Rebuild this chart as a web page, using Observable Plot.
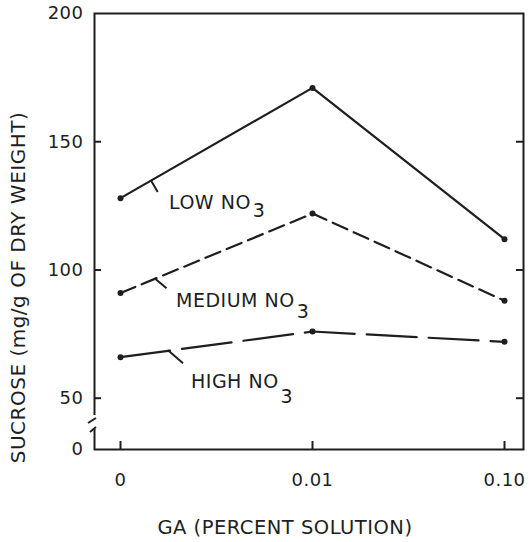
<!DOCTYPE html>
<html><head><meta charset="utf-8">
<script src="https://cdn.jsdelivr.net/npm/d3@7"></script>
<script src="https://cdn.jsdelivr.net/npm/@observablehq/plot@0.6"></script>
<style>body{margin:0;background:#fff}</style>
</head><body><div id="chart"></div>
<script>
// ---- data ----
const gaLevels = ["0", "0.01", "0.10"];
const lowNO3 = [128, 171, 112];
const mediumNO3 = [91, 122, 88];
const highNO3 = [66, 76, 72];
const seriesLabels = ["LOW NO", "MEDIUM NO", "HIGH NO"];
const subscriptText = "3";
const yTickValues = [0, 50, 100, 150, 200];
const xTitle = "GA (PERCENT SOLUTION)";
const yTitle = "SUCROSE (mg/g OF DRY WEIGHT)";

const seriesValues = [lowNO3, mediumNO3, highNO3];
const rows = seriesValues.flatMap((vals, i) =>
  vals.map((v, j) => ({series: seriesLabels[i], ga: gaLevels[j], sucrose: v})));

// ---- style / layout ----
// broken axis: the 0 baseline is drawn where 30 would be, below the break
const breakFloor = 30;
const yPos = v => (v === 0 ? breakFloor : v);
const styles = [
  {dash: undefined, leaderT: 0.16, leader: [7, 12], dx: 49, dy: 11, sub: 8},
  {dash: "16,7", leaderT: 0.18, leader: [12, 10], dx: 56, dy: 14, sub: 11},
  {dash: "50,12", leaderT: 0.25, leader: [15, 13], dx: 71, dy: 31, sub: 15}
];
const W = 529, H = 542, mL = 94, mR = 6, mT = 13, mB = 93;
const plotW = W - mL - mR, plotH = H - mT - mB;
const ink = "#1e1e1e";

function annotations(index, scales) {
  const g = d3.create("svg:g");
  seriesLabels.forEach((label, i) => {
    const s = styles[i], vals = seriesValues[i];
    const x0 = scales.x(gaLevels[0]), y0 = scales.y(vals[0]);
    const x1 = scales.x(gaLevels[1]), y1 = scales.y(vals[1]);
    const lx = x0 + (x1 - x0) * s.leaderT, ly = y0 + (y1 - y0) * s.leaderT;
    g.append("line").attr("x1", lx).attr("y1", ly)
      .attr("x2", lx + s.leader[0]).attr("y2", ly + s.leader[1])
      .attr("stroke", ink).attr("stroke-width", 2);
    const t = g.append("text").attr("x", x0 + s.dx).attr("y", y0 + s.dy)
      .attr("text-anchor", "start").attr("font-size", 19).attr("fill", ink).text(label);
    t.append("tspan").attr("dx", 2).attr("dy", s.sub).text(subscriptText);
  });
  return g.node();
}

function axisBreak(index, scales, values, dims) {
  const g = d3.create("svg:g");
  const x = dims.marginLeft, yb = scales.y(breakFloor);
  g.append("rect").attr("x", x - 3).attr("y", yb - 34).attr("width", 6).attr("height", 14).attr("fill", "white");
  g.append("line").attr("x1", x - 6).attr("y1", yb - 26).attr("x2", x + 2).attr("y2", yb - 31)
    .attr("stroke", ink).attr("stroke-width", 2);
  g.append("line").attr("x1", x - 4).attr("y1", yb - 17).attr("x2", x + 2).attr("y2", yb - 22)
    .attr("stroke", ink).attr("stroke-width", 2);
  return g.node();
}

const innerTicks = yTickValues.filter(d => d > 0 && d < 200);

const chart = Plot.plot({
  width: W, height: H,
  marginLeft: mL, marginRight: mR, marginTop: mT, marginBottom: mB,
  style: {fontFamily: "DejaVu Sans, sans-serif", fontSize: "18px", color: ink, background: "white", letterSpacing: "0.5px"},
  x: {type: "point", domain: gaLevels, padding: 0.1143, align: 0.568, label: null},
  y: {type: "linear", domain: [breakFloor, 200], label: null},
  marks: [
    Plot.frame({stroke: ink, strokeWidth: 2}),
    Plot.axisX({tickSize: 0, tickPadding: 24, label: null, fontSize: 18}),
    Plot.axisY(yTickValues.map(yPos), {tickSize: 0, tickPadding: 11, label: null, fontSize: 18,
      tickFormat: d => (d === breakFloor ? "0" : String(d))}),
    Plot.tickY(innerTicks, {y: d => d, insetRight: plotW - 7, stroke: ink, strokeWidth: 2}),
    Plot.tickY(innerTicks, {y: d => d, insetLeft: plotW - 7, stroke: ink, strokeWidth: 2}),
    Plot.tickX(gaLevels, {x: d => d, insetTop: plotH - 8, stroke: ink, strokeWidth: 2}),
    axisBreak,
    ...seriesLabels.map((name, i) => Plot.line(rows.filter(r => r.series === name),
      {x: "ga", y: "sucrose", stroke: ink, strokeWidth: 2.2, strokeDasharray: styles[i].dash})),
    Plot.dot(rows, {x: "ga", y: "sucrose", r: 3, fill: ink}),
    annotations,
    Plot.text([xTitle], {frameAnchor: "bottom", dx: -24, dy: 84, fontSize: 19.5, fill: ink}),
    Plot.text([yTitle], {frameAnchor: "left", textAnchor: "middle", lineAnchor: "middle", dx: -76, dy: 56, rotate: -90, fontSize: 20, fill: ink})
  ]
});
document.getElementById("chart").append(chart);
</script>
</body></html>
